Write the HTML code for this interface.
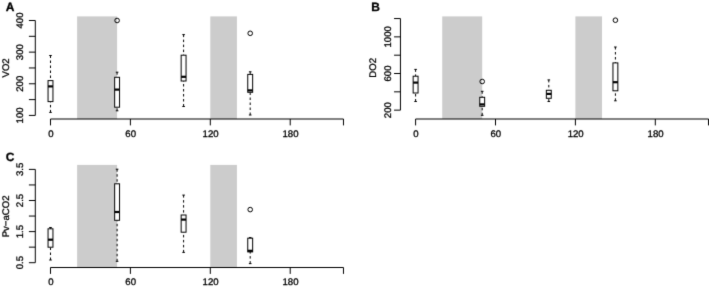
<!DOCTYPE html><html><head><meta charset="utf-8"><style>html,body{margin:0;padding:0;background:#fff;}svg{display:block;font-family:"Liberation Sans", sans-serif;-webkit-font-smoothing:antialiased;}text{fill:#000;stroke:#000;stroke-width:0.3;text-rendering:geometricPrecision;}</style></head><body>
<svg width="709" height="288" viewBox="0 0 709 288">
<defs><filter id="bl" x="0" y="0" width="709" height="288" filterUnits="userSpaceOnUse" color-interpolation-filters="sRGB"><feConvolveMatrix order="3" kernelMatrix="0.0113 0.0838 0.0113 0.0838 0.6193 0.0838 0.0113 0.0838 0.0113" divisor="1" edgeMode="duplicate" preserveAlpha="true"/></filter></defs>
<g filter="url(#bl)">
<rect width="709" height="288" fill="#fff"/>
<rect x="77.13" y="16.4" width="39.95" height="102.6" fill="#cccccc" stroke="none" stroke-width="0"/>
<rect x="210.3" y="16.4" width="26.63" height="102.6" fill="#cccccc" stroke="none" stroke-width="0"/>
<text x="10.1" y="10.7" text-anchor="middle" font-size="12" font-weight="bold">A</text>
<line x1="35.3" y1="20.5" x2="35.3" y2="115.42" stroke="#000" stroke-width="1.0"/>
<line x1="28.9" y1="20.5" x2="35.3" y2="20.5" stroke="#000" stroke-width="1.0"/>
<line x1="28.9" y1="36.32" x2="35.3" y2="36.32" stroke="#000" stroke-width="1.0"/>
<line x1="28.9" y1="52.14" x2="35.3" y2="52.14" stroke="#000" stroke-width="1.0"/>
<line x1="28.9" y1="67.96" x2="35.3" y2="67.96" stroke="#000" stroke-width="1.0"/>
<line x1="28.9" y1="83.78" x2="35.3" y2="83.78" stroke="#000" stroke-width="1.0"/>
<line x1="28.9" y1="99.6" x2="35.3" y2="99.6" stroke="#000" stroke-width="1.0"/>
<line x1="28.9" y1="115.42" x2="35.3" y2="115.42" stroke="#000" stroke-width="1.0"/>
<text transform="translate(23.2,20.5) rotate(-90)" text-anchor="middle" font-size="9.6" font-weight="normal">400</text>
<text transform="translate(23.2,52.14) rotate(-90)" text-anchor="middle" font-size="9.6" font-weight="normal">300</text>
<text transform="translate(23.2,83.78) rotate(-90)" text-anchor="middle" font-size="9.6" font-weight="normal">200</text>
<text transform="translate(23.2,115.42) rotate(-90)" text-anchor="middle" font-size="9.6" font-weight="normal">100</text>
<text transform="translate(8.6,67.9) rotate(-90)" text-anchor="middle" font-size="9.6" font-weight="normal">VO2</text>
<line x1="50.5" y1="119" x2="343.47" y2="119" stroke="#000" stroke-width="1.0"/>
<line x1="50.5" y1="119" x2="50.5" y2="125.4" stroke="#000" stroke-width="1.0"/>
<line x1="130.4" y1="119" x2="130.4" y2="125.4" stroke="#000" stroke-width="1.0"/>
<line x1="210.3" y1="119" x2="210.3" y2="125.4" stroke="#000" stroke-width="1.0"/>
<line x1="290.21" y1="119" x2="290.21" y2="125.4" stroke="#000" stroke-width="1.0"/>
<line x1="343.47" y1="119" x2="343.47" y2="125.4" stroke="#000" stroke-width="1.0"/>
<text x="50.8" y="137.2" text-anchor="middle" font-size="9.6" font-weight="normal">0</text>
<text x="130.7" y="137.2" text-anchor="middle" font-size="9.6" font-weight="normal">60</text>
<text x="210.6" y="137.2" text-anchor="middle" font-size="9.6" font-weight="normal">120</text>
<text x="290.51" y="137.2" text-anchor="middle" font-size="9.6" font-weight="normal">180</text>
<line x1="50.5" y1="55.5" x2="50.5" y2="80.6" stroke="#000" stroke-width="1.0" stroke-dasharray="2.5 2.5"/>
<line x1="49.2" y1="55.5" x2="51.8" y2="55.5" stroke="#000" stroke-width="1.0"/>
<line x1="50.5" y1="112.4" x2="50.5" y2="101.6" stroke="#000" stroke-width="1.0" stroke-dasharray="2.5 2.5"/>
<line x1="49.2" y1="112.4" x2="51.8" y2="112.4" stroke="#000" stroke-width="1.0"/>
<rect x="48.05" y="80.6" width="4.9" height="21" fill="#fff" stroke="#000" stroke-width="1.0"/>
<line x1="48.05" y1="86.4" x2="52.95" y2="86.4" stroke="#000" stroke-width="2.2"/>
<line x1="117.1" y1="72.2" x2="117.1" y2="77.3" stroke="#000" stroke-width="1.0" stroke-dasharray="2.5 2.5"/>
<line x1="115.8" y1="72.2" x2="118.4" y2="72.2" stroke="#000" stroke-width="1.0"/>
<line x1="117.1" y1="110.8" x2="117.1" y2="107.2" stroke="#000" stroke-width="1.0" stroke-dasharray="2.5 2.5"/>
<line x1="115.8" y1="110.8" x2="118.4" y2="110.8" stroke="#000" stroke-width="1.0"/>
<rect x="114.65" y="77.3" width="4.9" height="29.9" fill="#fff" stroke="#000" stroke-width="1.0"/>
<line x1="114.65" y1="89.6" x2="119.55" y2="89.6" stroke="#000" stroke-width="2.2"/>
<circle cx="117.1" cy="20.5" r="2.3" fill="none" stroke="#000" stroke-width="1"/>
<line x1="183.6" y1="34.6" x2="183.6" y2="55.2" stroke="#000" stroke-width="1.0" stroke-dasharray="2.5 2.5"/>
<line x1="182.3" y1="34.6" x2="184.9" y2="34.6" stroke="#000" stroke-width="1.0"/>
<line x1="183.6" y1="106.5" x2="183.6" y2="81" stroke="#000" stroke-width="1.0" stroke-dasharray="2.5 2.5"/>
<line x1="182.3" y1="106.5" x2="184.9" y2="106.5" stroke="#000" stroke-width="1.0"/>
<rect x="181.15" y="55.2" width="4.9" height="25.8" fill="#fff" stroke="#000" stroke-width="1.0"/>
<line x1="181.15" y1="76.8" x2="186.05" y2="76.8" stroke="#000" stroke-width="2.2"/>
<line x1="250.2" y1="71.8" x2="250.2" y2="74.4" stroke="#000" stroke-width="1.0" stroke-dasharray="2.5 2.5"/>
<line x1="248.9" y1="71.8" x2="251.5" y2="71.8" stroke="#000" stroke-width="1.0"/>
<line x1="250.2" y1="115" x2="250.2" y2="92.3" stroke="#000" stroke-width="1.0" stroke-dasharray="2.5 2.5"/>
<line x1="248.9" y1="115" x2="251.5" y2="115" stroke="#000" stroke-width="1.0"/>
<rect x="247.75" y="74.4" width="4.9" height="17.9" fill="#fff" stroke="#000" stroke-width="1.0"/>
<line x1="247.75" y1="90.4" x2="252.65" y2="90.4" stroke="#000" stroke-width="2.2"/>
<circle cx="250.2" cy="33.3" r="2.3" fill="none" stroke="#000" stroke-width="1"/>
<rect x="442.23" y="16.4" width="39.95" height="102.6" fill="#cccccc" stroke="none" stroke-width="0"/>
<rect x="575.4" y="16.4" width="26.63" height="102.6" fill="#cccccc" stroke="none" stroke-width="0"/>
<text x="375.5" y="10.8" text-anchor="middle" font-size="12" font-weight="bold">B</text>
<line x1="400.45" y1="18.55" x2="400.45" y2="110.15" stroke="#000" stroke-width="1.0"/>
<line x1="394.05" y1="18.55" x2="400.45" y2="18.55" stroke="#000" stroke-width="1.0"/>
<line x1="394.05" y1="36.87" x2="400.45" y2="36.87" stroke="#000" stroke-width="1.0"/>
<line x1="394.05" y1="55.19" x2="400.45" y2="55.19" stroke="#000" stroke-width="1.0"/>
<line x1="394.05" y1="73.51" x2="400.45" y2="73.51" stroke="#000" stroke-width="1.0"/>
<line x1="394.05" y1="91.83" x2="400.45" y2="91.83" stroke="#000" stroke-width="1.0"/>
<line x1="394.05" y1="110.15" x2="400.45" y2="110.15" stroke="#000" stroke-width="1.0"/>
<text transform="translate(391.3,36.87) rotate(-90)" text-anchor="middle" font-size="9.6" font-weight="normal">1000</text>
<text transform="translate(391.3,73.51) rotate(-90)" text-anchor="middle" font-size="9.6" font-weight="normal">600</text>
<text transform="translate(391.3,110.15) rotate(-90)" text-anchor="middle" font-size="9.6" font-weight="normal">200</text>
<text transform="translate(376.2,67.9) rotate(-90)" text-anchor="middle" font-size="9.6" font-weight="normal">DO2</text>
<line x1="415.6" y1="119" x2="708.57" y2="119" stroke="#000" stroke-width="1.0"/>
<line x1="415.6" y1="119" x2="415.6" y2="125.4" stroke="#000" stroke-width="1.0"/>
<line x1="495.5" y1="119" x2="495.5" y2="125.4" stroke="#000" stroke-width="1.0"/>
<line x1="575.4" y1="119" x2="575.4" y2="125.4" stroke="#000" stroke-width="1.0"/>
<line x1="655.31" y1="119" x2="655.31" y2="125.4" stroke="#000" stroke-width="1.0"/>
<line x1="708.57" y1="119" x2="708.57" y2="125.4" stroke="#000" stroke-width="1.0"/>
<text x="415.9" y="137.2" text-anchor="middle" font-size="9.6" font-weight="normal">0</text>
<text x="495.8" y="137.2" text-anchor="middle" font-size="9.6" font-weight="normal">60</text>
<text x="575.7" y="137.2" text-anchor="middle" font-size="9.6" font-weight="normal">120</text>
<text x="655.61" y="137.2" text-anchor="middle" font-size="9.6" font-weight="normal">180</text>
<line x1="415.6" y1="69.4" x2="415.6" y2="76.2" stroke="#000" stroke-width="1.0" stroke-dasharray="2.5 2.5"/>
<line x1="414.3" y1="69.4" x2="416.9" y2="69.4" stroke="#000" stroke-width="1.0"/>
<line x1="415.6" y1="101.5" x2="415.6" y2="93" stroke="#000" stroke-width="1.0" stroke-dasharray="2.5 2.5"/>
<line x1="414.3" y1="101.5" x2="416.9" y2="101.5" stroke="#000" stroke-width="1.0"/>
<rect x="413.15" y="76.2" width="4.9" height="16.8" fill="#fff" stroke="#000" stroke-width="1.0"/>
<line x1="413.15" y1="82.6" x2="418.05" y2="82.6" stroke="#000" stroke-width="2.2"/>
<line x1="482.2" y1="91.3" x2="482.2" y2="97.3" stroke="#000" stroke-width="1.0" stroke-dasharray="2.5 2.5"/>
<line x1="480.9" y1="91.3" x2="483.5" y2="91.3" stroke="#000" stroke-width="1.0"/>
<line x1="482.2" y1="115.3" x2="482.2" y2="106.3" stroke="#000" stroke-width="1.0" stroke-dasharray="2.5 2.5"/>
<line x1="480.9" y1="115.3" x2="483.5" y2="115.3" stroke="#000" stroke-width="1.0"/>
<rect x="479.75" y="97.3" width="4.9" height="9" fill="#fff" stroke="#000" stroke-width="1.0"/>
<line x1="479.75" y1="104.4" x2="484.65" y2="104.4" stroke="#000" stroke-width="2.2"/>
<circle cx="482.2" cy="81.5" r="2.3" fill="none" stroke="#000" stroke-width="1"/>
<line x1="548.8" y1="79.9" x2="548.8" y2="90.3" stroke="#000" stroke-width="1.0" stroke-dasharray="2.5 2.5"/>
<line x1="547.5" y1="79.9" x2="550.1" y2="79.9" stroke="#000" stroke-width="1.0"/>
<line x1="548.8" y1="101.5" x2="548.8" y2="98.3" stroke="#000" stroke-width="1.0" stroke-dasharray="2.5 2.5"/>
<line x1="547.5" y1="101.5" x2="550.1" y2="101.5" stroke="#000" stroke-width="1.0"/>
<rect x="546.35" y="90.3" width="4.9" height="8" fill="#fff" stroke="#000" stroke-width="1.0"/>
<line x1="546.35" y1="93.9" x2="551.25" y2="93.9" stroke="#000" stroke-width="2.2"/>
<line x1="615.4" y1="47" x2="615.4" y2="62.9" stroke="#000" stroke-width="1.0" stroke-dasharray="2.5 2.5"/>
<line x1="614.1" y1="47" x2="616.7" y2="47" stroke="#000" stroke-width="1.0"/>
<line x1="615.4" y1="100.8" x2="615.4" y2="90.8" stroke="#000" stroke-width="1.0" stroke-dasharray="2.5 2.5"/>
<line x1="614.1" y1="100.8" x2="616.7" y2="100.8" stroke="#000" stroke-width="1.0"/>
<rect x="612.95" y="62.9" width="4.9" height="27.9" fill="#fff" stroke="#000" stroke-width="1.0"/>
<line x1="612.95" y1="82.2" x2="617.85" y2="82.2" stroke="#000" stroke-width="2.2"/>
<circle cx="615.4" cy="20.2" r="2.3" fill="none" stroke="#000" stroke-width="1"/>
<rect x="77.13" y="164.9" width="39.95" height="102.6" fill="#cccccc" stroke="none" stroke-width="0"/>
<rect x="210.3" y="164.9" width="26.63" height="102.6" fill="#cccccc" stroke="none" stroke-width="0"/>
<text x="10.15" y="161.2" text-anchor="middle" font-size="12" font-weight="bold">C</text>
<line x1="35.3" y1="169.4" x2="35.3" y2="262.7" stroke="#000" stroke-width="1.0"/>
<line x1="28.9" y1="169.4" x2="35.3" y2="169.4" stroke="#000" stroke-width="1.0"/>
<line x1="28.9" y1="184.95" x2="35.3" y2="184.95" stroke="#000" stroke-width="1.0"/>
<line x1="28.9" y1="200.5" x2="35.3" y2="200.5" stroke="#000" stroke-width="1.0"/>
<line x1="28.9" y1="216.05" x2="35.3" y2="216.05" stroke="#000" stroke-width="1.0"/>
<line x1="28.9" y1="231.6" x2="35.3" y2="231.6" stroke="#000" stroke-width="1.0"/>
<line x1="28.9" y1="247.15" x2="35.3" y2="247.15" stroke="#000" stroke-width="1.0"/>
<line x1="28.9" y1="262.7" x2="35.3" y2="262.7" stroke="#000" stroke-width="1.0"/>
<text transform="translate(23.2,169.4) rotate(-90)" text-anchor="middle" font-size="9.6" font-weight="normal">3.5</text>
<text transform="translate(23.2,200.5) rotate(-90)" text-anchor="middle" font-size="9.6" font-weight="normal">2.5</text>
<text transform="translate(23.2,231.6) rotate(-90)" text-anchor="middle" font-size="9.6" font-weight="normal">1.5</text>
<text transform="translate(23.2,262.7) rotate(-90)" text-anchor="middle" font-size="9.6" font-weight="normal">0.5</text>
<text transform="translate(8.6,216.4) rotate(-90)" text-anchor="middle" font-size="9.6" font-weight="normal">Pv−aCO2</text>
<line x1="50.5" y1="267.5" x2="343.47" y2="267.5" stroke="#000" stroke-width="1.0"/>
<line x1="50.5" y1="267.5" x2="50.5" y2="273.9" stroke="#000" stroke-width="1.0"/>
<line x1="130.4" y1="267.5" x2="130.4" y2="273.9" stroke="#000" stroke-width="1.0"/>
<line x1="210.3" y1="267.5" x2="210.3" y2="273.9" stroke="#000" stroke-width="1.0"/>
<line x1="290.21" y1="267.5" x2="290.21" y2="273.9" stroke="#000" stroke-width="1.0"/>
<line x1="343.47" y1="267.5" x2="343.47" y2="273.9" stroke="#000" stroke-width="1.0"/>
<text x="50.8" y="285.1" text-anchor="middle" font-size="9.6" font-weight="normal">0</text>
<text x="130.7" y="285.1" text-anchor="middle" font-size="9.6" font-weight="normal">60</text>
<text x="210.6" y="285.1" text-anchor="middle" font-size="9.6" font-weight="normal">120</text>
<text x="290.51" y="285.1" text-anchor="middle" font-size="9.6" font-weight="normal">180</text>
<line x1="50.5" y1="227.5" x2="50.5" y2="228.8" stroke="#000" stroke-width="1.0" stroke-dasharray="2.5 2.5"/>
<line x1="49.2" y1="227.5" x2="51.8" y2="227.5" stroke="#000" stroke-width="1.0"/>
<line x1="50.5" y1="260" x2="50.5" y2="247.2" stroke="#000" stroke-width="1.0" stroke-dasharray="2.5 2.5"/>
<line x1="49.2" y1="260" x2="51.8" y2="260" stroke="#000" stroke-width="1.0"/>
<rect x="48.05" y="228.8" width="4.9" height="18.4" fill="#fff" stroke="#000" stroke-width="1.0"/>
<line x1="48.05" y1="239.7" x2="52.95" y2="239.7" stroke="#000" stroke-width="2.2"/>
<line x1="117.1" y1="169.2" x2="117.1" y2="183.8" stroke="#000" stroke-width="1.0" stroke-dasharray="2.5 2.5"/>
<line x1="115.8" y1="169.2" x2="118.4" y2="169.2" stroke="#000" stroke-width="1.0"/>
<line x1="117.1" y1="261.3" x2="117.1" y2="220.3" stroke="#000" stroke-width="1.0" stroke-dasharray="2.5 2.5"/>
<line x1="115.8" y1="261.3" x2="118.4" y2="261.3" stroke="#000" stroke-width="1.0"/>
<rect x="114.65" y="183.8" width="4.9" height="36.5" fill="#fff" stroke="#000" stroke-width="1.0"/>
<line x1="114.65" y1="212" x2="119.55" y2="212" stroke="#000" stroke-width="2.2"/>
<line x1="183.6" y1="195.1" x2="183.6" y2="215" stroke="#000" stroke-width="1.0" stroke-dasharray="2.5 2.5"/>
<line x1="182.3" y1="195.1" x2="184.9" y2="195.1" stroke="#000" stroke-width="1.0"/>
<line x1="183.6" y1="252.4" x2="183.6" y2="232.2" stroke="#000" stroke-width="1.0" stroke-dasharray="2.5 2.5"/>
<line x1="182.3" y1="252.4" x2="184.9" y2="252.4" stroke="#000" stroke-width="1.0"/>
<rect x="181.15" y="215" width="4.9" height="17.2" fill="#fff" stroke="#000" stroke-width="1.0"/>
<line x1="181.15" y1="219.6" x2="186.05" y2="219.6" stroke="#000" stroke-width="2.2"/>
<line x1="250.2" y1="237.6" x2="250.2" y2="238.2" stroke="#000" stroke-width="1.0" stroke-dasharray="2.5 2.5"/>
<line x1="248.9" y1="237.6" x2="251.5" y2="237.6" stroke="#000" stroke-width="1.0"/>
<line x1="250.2" y1="263.6" x2="250.2" y2="251.9" stroke="#000" stroke-width="1.0" stroke-dasharray="2.5 2.5"/>
<line x1="248.9" y1="263.6" x2="251.5" y2="263.6" stroke="#000" stroke-width="1.0"/>
<rect x="247.75" y="238.2" width="4.9" height="13.7" fill="#fff" stroke="#000" stroke-width="1.0"/>
<line x1="247.75" y1="250.8" x2="252.65" y2="250.8" stroke="#000" stroke-width="2.2"/>
<circle cx="250.2" cy="209.6" r="2.3" fill="none" stroke="#000" stroke-width="1"/>
</g></svg></body></html>
